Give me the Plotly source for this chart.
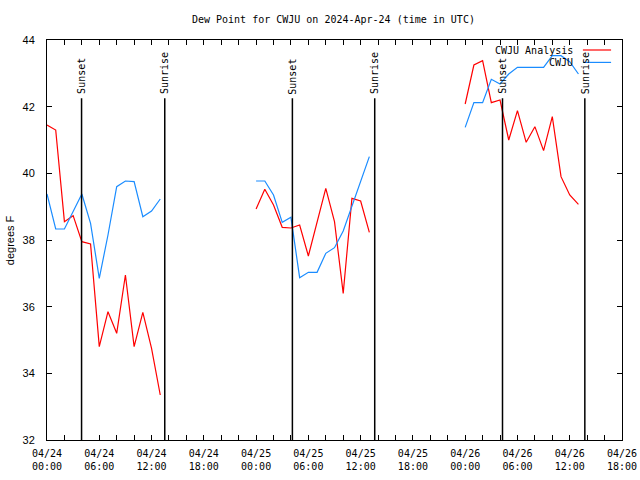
import plotly.graph_objects as go
import pandas as pd

# ---- data ----
days = ["2024-04-24", "2024-04-25", "2024-04-26"]
hours = list(range(14))  # 00:00 .. 13:00 each day

analysis_d1 = [41.45, 41.30, 38.55, 38.73, 37.95, 37.88, 34.80, 35.85, 35.20, 36.95, 34.80, 35.83, 34.75, 33.35]
analysis_d2 = [38.93, 39.52, 39.05, 38.38, 38.36, 38.45, 37.52, 38.55, 39.55, 38.55, 36.40, 39.25, 39.17, 38.23]
analysis_d3 = [42.08, 43.25, 43.38, 42.12, 42.20, 41.00, 41.88, 40.93, 41.40, 40.68, 41.70, 39.90, 39.35, 39.07]

obs_d1 = [39.38, 38.33, 38.33, 38.87, 39.38, 38.50, 36.85, 38.15, 39.60, 39.77, 39.75, 38.70, 38.87, 39.23]
obs_d2 = [39.77, 39.77, 39.35, 38.53, 38.68, 36.87, 37.03, 37.03, 37.60, 37.77, 38.27, 39.00, 39.78, 40.50]
obs_d3 = [41.38, 42.12, 42.12, 42.82, 42.68, 42.98, 43.18, 43.18, 43.18, 43.18, 43.53, 43.53, 43.35, 42.98]

sunset_times = ["2024-04-24 03:58", "2024-04-25 04:10", "2024-04-26 04:17"]
sunrise_times = ["2024-04-24 13:31", "2024-04-25 13:37", "2024-04-26 13:44"]

tick_times = ["2024-04-24 00:00", "2024-04-24 06:00", "2024-04-24 12:00", "2024-04-24 18:00",
              "2024-04-25 00:00", "2024-04-25 06:00", "2024-04-25 12:00", "2024-04-25 18:00",
              "2024-04-26 00:00", "2024-04-26 06:00", "2024-04-26 12:00", "2024-04-26 18:00"]
tick_labels = ["04/24<br>00:00", "04/24<br>06:00", "04/24<br>12:00", "04/24<br>18:00",
               "04/25<br>00:00", "04/25<br>06:00", "04/25<br>12:00", "04/25<br>18:00",
               "04/26<br>00:00", "04/26<br>06:00", "04/26<br>12:00", "04/26<br>18:00"]

title_text = "Dew Point for CWJU on 2024-Apr-24 (time in UTC)"
y_title = "degrees F"
name_analysis = "CWJU Analysis"
name_obs = "CWJU"
RED = "#ff0000"
BLUE = "#1a8cff"
MONO = "DejaVu Sans Mono"
SANS = "Liberation Sans"


def build(segments):
    xs, ys = [], []
    for day, vals in zip(days, segments):
        base = pd.Timestamp(day)
        xs += [base + pd.Timedelta(hours=h) for h in hours] + [None]
        ys += list(vals) + [None]
    return xs, ys


xa, ya = build([analysis_d1, analysis_d2, analysis_d3])
xo, yo = build([obs_d1, obs_d2, obs_d3])

fig = go.Figure()
fig.add_trace(go.Scatter(x=xa, y=ya, mode="lines", name=name_analysis,
                         line=dict(color=RED, width=1.2), connectgaps=False))
fig.add_trace(go.Scatter(x=xo, y=yo, mode="lines", name=name_obs,
                         line=dict(color=BLUE, width=1.2), connectgaps=False))

LINE_TOP = 42.25
for t, label in [(s, "Sunset") for s in sunset_times] + [(s, "Sunrise") for s in sunrise_times]:
    fig.add_shape(type="line", xref="x", yref="y", x0=t, x1=t, y0=32, y1=LINE_TOP,
                  line=dict(color="black", width=1.5))
    fig.add_annotation(x=t, y=LINE_TOP, xref="x", yref="y", text=label, textangle=-90,
                       showarrow=False, xanchor="center", yanchor="bottom", yshift=2,
                       font=dict(family=MONO, size=10, color="black"))

# manual legend (gnuplot style: text right-aligned, sample on right)
for i, (nm, col) in enumerate([(name_analysis, RED), (name_obs, BLUE)]):
    yp = 0.975 - i * 0.031
    fig.add_annotation(x=0.918, y=yp, xref="paper", yref="paper", text=nm, showarrow=False,
                       xanchor="right", yanchor="middle",
                       font=dict(family=MONO, size=10, color="black"))
    fig.add_shape(type="line", xref="paper", yref="paper", x0=0.932, x1=0.981, y0=yp, y1=yp,
                  line=dict(color=col, width=1.2))

# y-axis title as annotation for exact placement
fig.add_annotation(x=-0.064, y=0.5, xref="paper", yref="paper", text=y_title, textangle=-90,
                   showarrow=False, xanchor="center", yanchor="middle",
                   font=dict(family=SANS, size=11, color="black"))

fig.update_layout(
    width=640, height=480,
    margin=dict(l=47, r=18, t=40, b=40, autoexpand=False),
    paper_bgcolor="white", plot_bgcolor="white",
    showlegend=False,
    title=dict(text=title_text, x=0.521, xanchor="center", y=0.96, yanchor="middle",
               automargin=False, font=dict(family=MONO, size=10, color="black")),
    font=dict(family=MONO, size=10, color="black"),
)
fig.update_xaxes(
    range=["2024-04-24 00:00", "2024-04-26 18:00"],
    tickvals=tick_times, ticktext=tick_labels,
    ticks="inside", ticklen=5, tickcolor="black", tickwidth=1,
    minor=dict(dtick=2 * 3600 * 1000, ticks="inside", ticklen=5, tickcolor="black", showgrid=False),
    showline=True, linecolor="black", linewidth=1, mirror="allticks",
    showgrid=False, zeroline=False, automargin=False,
    tickfont=dict(family=MONO, size=10, color="black"),
    ticklabelstandoff=4,
)
fig.update_yaxes(
    range=[32, 44], tickvals=[32, 34, 36, 38, 40, 42, 44],
    ticks="inside", ticklen=5, tickcolor="black",
    showline=True, linecolor="black", linewidth=1, mirror="allticks",
    showgrid=False, zeroline=False, automargin=False,
    tickfont=dict(family=SANS, size=11, color="black"),
    ticklabelstandoff=9,
)

fig.write_html("out.html", config={"displayModeBar": False},
               post_script="document.body.style.margin='0';")
